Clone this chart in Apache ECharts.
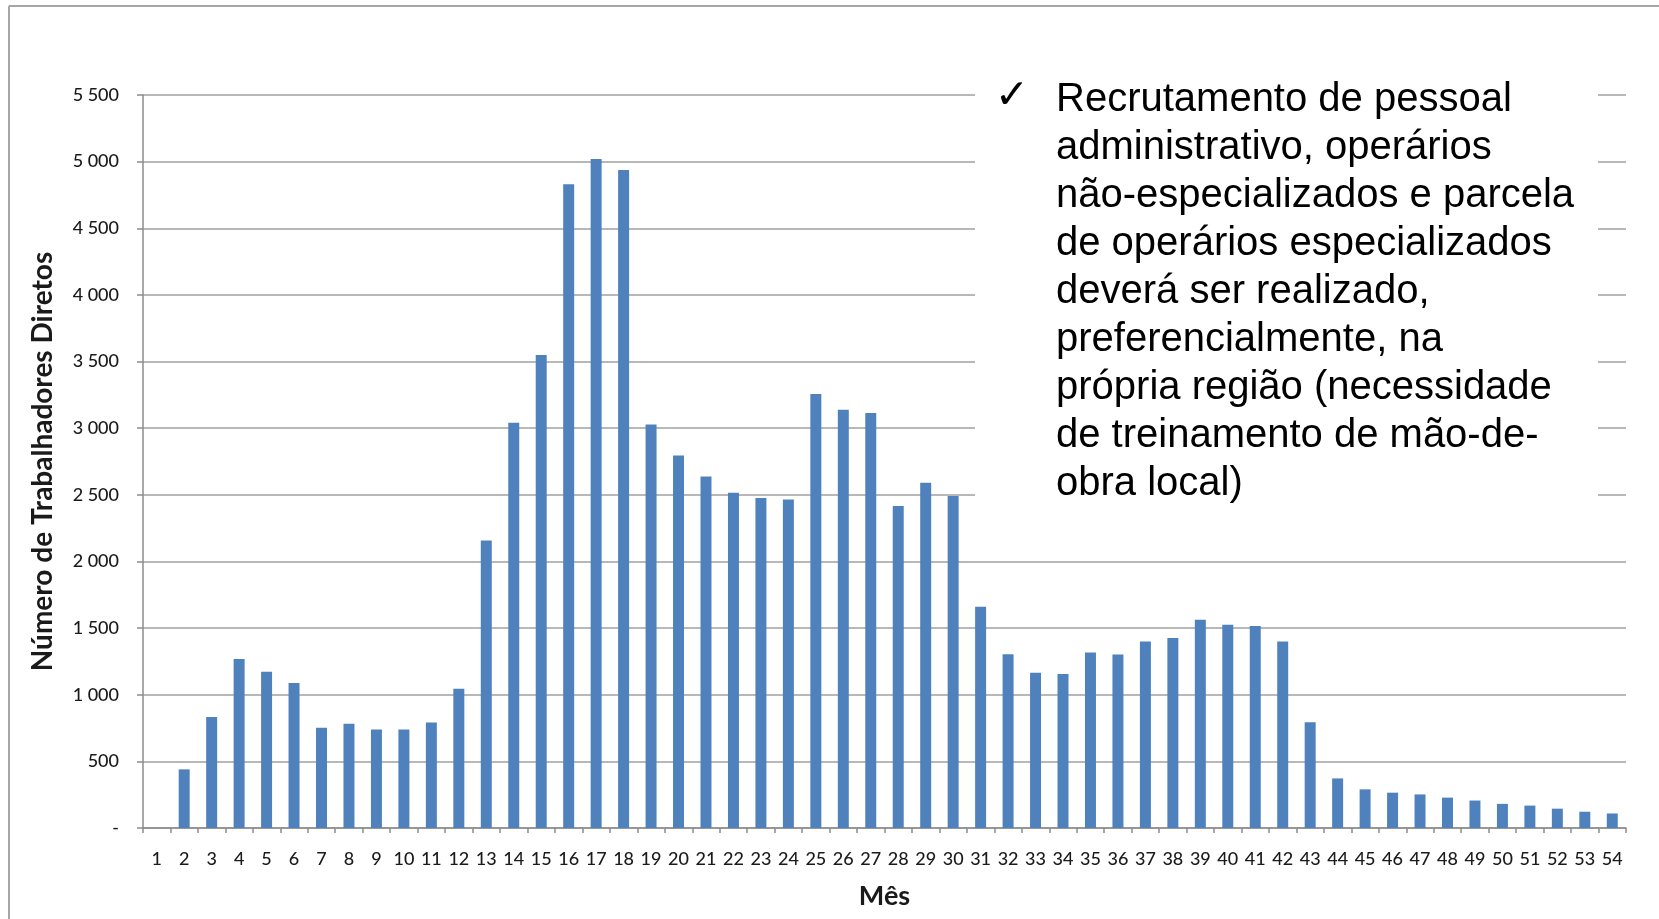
<!DOCTYPE html>
<html>
<head>
<meta charset="utf-8">
<script src="https://cdn.jsdelivr.net/npm/echarts@6/dist/echarts.min.js"></script>
<style>
html,body{margin:0;padding:0;background:#fff;}
#chart{width:1659px;height:919px;}
</style>
</head>
<body>
<div id="chart"></div>
<script>
const months = [];
for (let i = 1; i <= 54; i++) months.push(String(i));
const workers = [0, 440, 832, 1268, 1172, 1088, 752, 783, 740, 740, 792, 1045, 2158, 3040, 3550, 4830, 5020, 4938, 3027, 2795, 2638, 2515, 2477, 2465, 3257, 3138, 3113, 2416, 2590, 2492, 1660, 1304, 1165, 1155, 1316, 1302, 1400, 1425, 1562, 1525, 1515, 1400, 793, 372, 290, 265, 252, 228, 206, 181, 168, 145, 122, 109];
const yTicks = { min: 0, max: 5500, interval: 500 };
const yTitle = 'Número de Trabalhadores Diretos';
const xTitle = 'Mês';
const noteLines = [
  'Recrutamento de pessoal',
  'administrativo, operários',
  'não-especializados e parcela',
  'de operários especializados',
  'deverá ser realizado,',
  'preferencialmente, na',
  'própria região (necessidade',
  'de treinamento de mão-de-',
  'obra local)'
];

const chart = echarts.init(document.getElementById('chart'));
const fmt = v => v === 0 ? '-' : String(v).replace(/\B(?=(\d{3})+(?!\d))/g, ' ');
chart.setOption({
  animation: false,
  backgroundColor: '#fff',
  grid: { left: 143, right: 33, top: 95, bottom: 91, containLabel: false },
  xAxis: {
    type: 'category',
    data: months,
    name: xTitle,
    nameLocation: 'middle',
    nameGap: 55,
    nameTextStyle: { fontFamily: 'Lato', fontWeight: 'bold', fontSize: 27, color: '#1a1a1a' },
    axisLine: { lineStyle: { color: '#8c8c8c', width: 1.5 } },
    axisTick: { show: true, length: 5, lineStyle: { color: '#8c8c8c', width: 1.5 } },
    axisLabel: { interval: 0, margin: 22, fontFamily: 'Lato', fontSize: 18, fontWeight: 500, color: '#1a1a1a' }
  },
  yAxis: {
    type: 'value',
    min: yTicks.min, max: yTicks.max, interval: yTicks.interval,
    name: yTitle,
    nameLocation: 'middle',
    nameGap: 86,
    nameRotate: 90,
    nameTextStyle: { fontFamily: 'Lato', fontWeight: 'bold', fontSize: 28, color: '#1a1a1a' },
    axisLine: { show: true, lineStyle: { color: '#8c8c8c', width: 1.5 } },
    axisTick: { show: true, length: 6, lineStyle: { color: '#8c8c8c', width: 1.5 } },
    splitLine: { show: true, lineStyle: { color: '#a0a0a0', width: 1.5 } },
    axisLabel: { margin: 24, fontFamily: 'Lato', fontSize: 18, fontWeight: 500, color: '#1a1a1a', formatter: fmt }
  },
  series: [{
    type: 'bar',
    data: workers,
    barWidth: '40%',
    itemStyle: { color: '#4f81bd' }
  }],
  graphic: [
    { type: 'line', shape: { x1: 9, y1: 6, x2: 1659, y2: 6 }, style: { stroke: '#a6a6a6', lineWidth: 2 }, z: 10 },
    { type: 'line', shape: { x1: 9, y1: 6, x2: 9, y2: 919 }, style: { stroke: '#a6a6a6', lineWidth: 2 }, z: 10 },
    { type: 'rect', shape: { x: 975, y: 70, width: 623, height: 450 }, style: { fill: '#fff' }, z: 10 },
    { type: 'text', x: 1012, y: 97, style: { text: '✓', font: 'bold 41px "DejaVu Sans"', fill: '#000', align: 'center', verticalAlign: 'middle' }, z: 11 },
    { type: 'text', x: 1056, y: 76, style: { text: noteLines.join('\n'), font: '40px "Liberation Sans"', lineHeight: 48, fill: '#000', align: 'left', verticalAlign: 'top' }, z: 11 }
  ]
});
</script>
</body>
</html>
